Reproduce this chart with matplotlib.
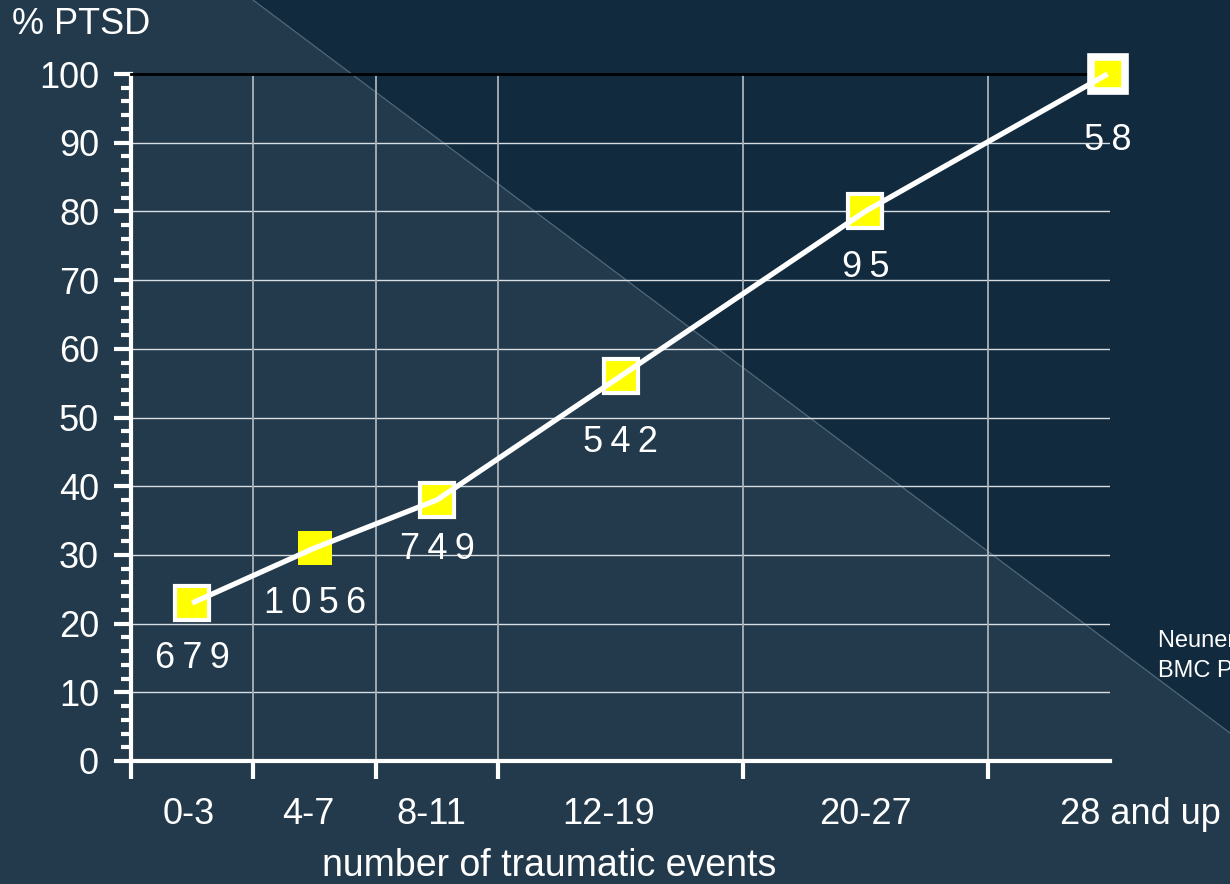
import matplotlib
matplotlib.use("Agg")
import matplotlib.pyplot as plt
from matplotlib.patches import Polygon
from matplotlib.lines import Line2D

plt.rcParams['font.family'] = ['Liberation Sans', 'DejaVu Sans']

categories = ["0-3", "4-7", "8-11", "12-19", "20-27", "28 and up"]
ptsd_pct = [23, 31, 38, 56, 80, 100]
n_labels = ["679", "1056", "749", "542", "95", "58"]
y_ticks = [0, 10, 20, 30, 40, 50, 60, 70, 80, 90, 100]

# layout / style (not data)
x_pos = [0.5, 1.5, 2.5, 4.0, 6.0, 7.98]
cat_label_x = [0.47, 1.45, 2.45, 3.9, 6.0, 8.25]
bin_edges = [0, 1, 2, 3, 5, 7]
label_dy = [-56, -55, -50, -66, -56, -66]
edge_w = [3, 0, 3, 3, 3, 5.5]
edge_c = ['white', 'yellow', 'white', 'white', 'white', 'white']
FS = 26

W, H = 1230, 884
fig = plt.figure(figsize=(W / 100, H / 100), dpi=100)
fig.patch.set_facecolor('#112a3e')

# lighter region in lower-left (pixel corners converted to figure fraction)
poly_px = [(0, 0), (253, 0), (1230, 733), (1230, 884), (0, 884)]
poly = [(px / W, 1 - py / H) for px, py in poly_px]
tri = Polygon(poly, closed=True, transform=fig.transFigure, facecolor='#223a4b',
              edgecolor='none', zorder=-10)
fig.patches.append(tri)
diag = Line2D([253 / W, 1.0], [1.0, 1 - 733 / H], transform=fig.transFigure,
              color='#4f6777', linewidth=0.9, zorder=-9)
fig.lines.append(diag)

ax = fig.add_axes([131 / W, 1 - 761 / H, (1110 - 131) / W, (761 - 74) / H])
ax.set_zorder(5)
ax.set_facecolor('none')
ax.patch.set_alpha(0)
ax.set_xlim(0, 8)
ax.set_ylim(0, 100)

for y in y_ticks[1:-1]:
    ax.axhline(y, color='#d8dde2', linewidth=1.0, zorder=1)
for xe in bin_edges[1:]:
    ax.axvline(xe, color='#a9b2ba', linewidth=1.3, zorder=1)

ax.spines['right'].set_visible(False)
ax.spines['top'].set_color('black')
ax.spines['top'].set_linewidth(2)
ax.spines['left'].set_color('white')
ax.spines['left'].set_linewidth(3)
ax.spines['bottom'].set_color('white')
ax.spines['bottom'].set_linewidth(3)

ax.set_yticks(y_ticks)
ax.set_yticks([v for v in range(0, 101, 2) if v % 10], minor=True)
ax.tick_params(axis='y', which='major', length=12, width=3, color='white',
               labelcolor='white', labelsize=FS, pad=11, direction='out')
ax.tick_params(axis='y', which='minor', length=7, width=3, color='white', direction='out')
ax.set_xticks(bin_edges)
ax.set_xticklabels([])
ax.tick_params(axis='x', which='major', length=13, width=3, color='white', direction='out')

for cx, lab in zip(cat_label_x, categories):
    ax.text(cx, -0.052, lab, transform=ax.get_xaxis_transform(), ha='center', va='top',
            color='white', fontsize=FS)

for x, y, ew, ec in zip(x_pos, ptsd_pct, edge_w, edge_c):
    ax.plot([x], [y], marker='s', markersize=24, markerfacecolor='#ffff00',
            markeredgecolor=ec, markeredgewidth=ew, linestyle='none', zorder=3, clip_on=False)
ax.plot(x_pos, ptsd_pct, color='white', linewidth=3.8, zorder=4, clip_on=False,
        solid_capstyle='butt')

for x, y, lab, dy in zip(x_pos, ptsd_pct, n_labels, label_dy):
    ax.annotate("\u2009".join(lab), (x, y), xytext=(0, dy * 0.72),
                textcoords='offset points', ha='center', va='center',
                color='white', fontsize=FS, zorder=5)

fig.text(12 / W, 1 - 25 / H, "% PTSD", color='white', fontsize=FS, ha='left', va='center')
fig.text(549 / W, 1 - 866 / H, "number of traumatic events", color='white', fontsize=27,
         ha='center', va='center')
fig.text(1158 / W, 1 - 641 / H, "Neuner et al. 2004", color='white', fontsize=17,
         ha='left', va='center')
fig.text(1158 / W, 1 - 671 / H, "BMC Psychiatry", color='white', fontsize=17,
         ha='left', va='center')

fig.savefig("out.png", dpi=100, facecolor=fig.get_facecolor())
